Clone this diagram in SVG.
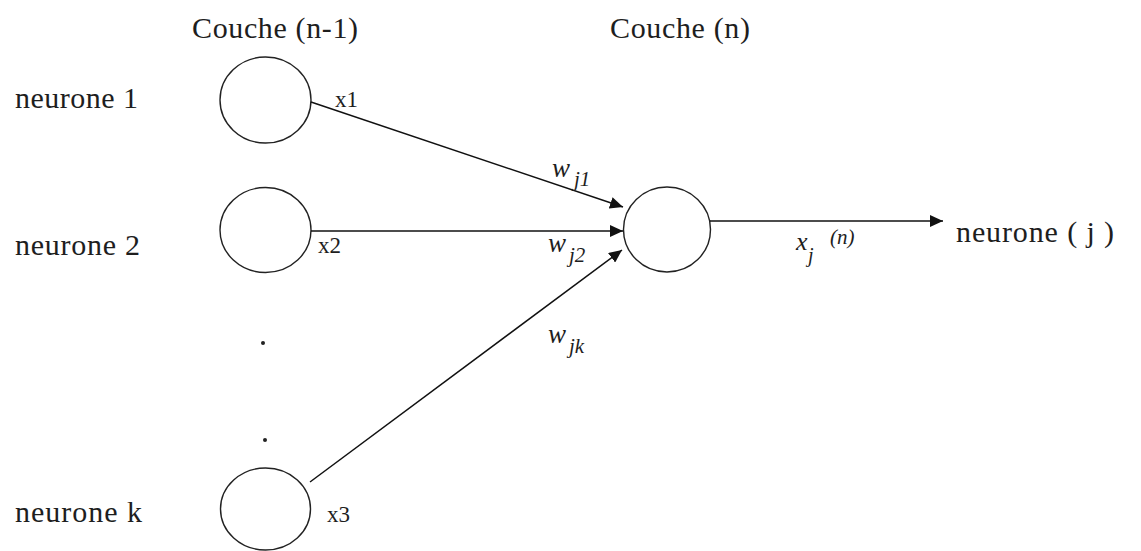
<svg xmlns="http://www.w3.org/2000/svg" width="1141" height="551" viewBox="0 0 1141 551">
  <style>
    .lbl { font-family: 'Liberation Serif', 'DejaVu Serif', serif; font-size: 30px; fill: #1e1e1e; }
    .sm { font-family: 'Liberation Serif', 'DejaVu Serif', serif; font-size: 23px; fill: #1e1e1e; }
    .math { font-family: 'Liberation Serif', 'DejaVu Serif', serif; font-style: italic; fill: #1e1e1e; }
    .node { fill: #fff; stroke: #222; stroke-width: 1.4; }
    .edge { fill: none; stroke: #111; stroke-width: 1.5; }
  </style>
  <defs>
    <marker id="arrow" markerUnits="userSpaceOnUse" markerWidth="14" markerHeight="12" refX="13" refY="6" orient="auto">
      <path d="M0,0 L13,6 L0,12 z" fill="#111"/>
    </marker>
  </defs>
  <rect width="1141" height="551" fill="#fff"/>

  <text class="lbl" x="192" y="38" textLength="166" lengthAdjust="spacing">Couche (n-1)</text>
  <text class="lbl" x="610" y="38" textLength="140" lengthAdjust="spacing">Couche (n)</text>

  <g id="neurone1">
    <text class="lbl" x="15" y="108" textLength="123" lengthAdjust="spacing">neurone 1</text>
    <ellipse class="node" cx="265.5" cy="100" rx="45.5" ry="43"/>
  </g>
  <g id="neurone2">
    <text class="lbl" x="15" y="255" textLength="125" lengthAdjust="spacing">neurone 2</text>
    <ellipse class="node" cx="265.5" cy="230" rx="45.5" ry="42.5"/>
  </g>
  <g id="dots">
    <circle cx="263" cy="343" r="2" fill="#222"/>
    <circle cx="265" cy="440" r="2" fill="#222"/>
  </g>
  <g id="neuronek">
    <text class="lbl" x="15" y="522" textLength="127" lengthAdjust="spacing">neurone k</text>
    <ellipse class="node" cx="265.5" cy="509" rx="45" ry="41"/>
  </g>
  <g id="neuronej">
    <ellipse class="node" cx="667" cy="229.5" rx="43.5" ry="42.5"/>
  </g>
  <g id="output">
    <text class="lbl" x="956" y="242" textLength="158" lengthAdjust="spacing">neurone ( j )</text>
  </g>

  <g id="connectors">
    <line class="edge" x1="311" y1="102" x2="623" y2="207" marker-end="url(#arrow)"/>
    <line class="edge" x1="311" y1="231" x2="623" y2="231" marker-end="url(#arrow)"/>
    <line class="edge" x1="310" y1="482" x2="622" y2="250" marker-end="url(#arrow)"/>
    <line class="edge" x1="710" y1="221" x2="943" y2="221" marker-end="url(#arrow)"/>

    <text class="sm" x="335" y="107">x1</text>
    <text class="sm" x="318" y="253">x2</text>
    <text class="sm" x="327" y="522">x3</text>

    <text class="math"><tspan x="552" y="177" font-size="27">w</tspan><tspan x="574" y="186" font-size="21">j1</tspan></text>
    <text class="math"><tspan x="548" y="252" font-size="27">w</tspan><tspan x="569" y="262" font-size="21">j2</tspan></text>
    <text class="math"><tspan x="548" y="343" font-size="27">w</tspan><tspan x="569" y="353" font-size="21">jk</tspan></text>
    <text class="math"><tspan x="796" y="250" font-size="26">x</tspan><tspan x="808" y="262" font-size="20">j</tspan><tspan x="830" y="244" font-size="21">(n)</tspan></text>
  </g>
</svg>
